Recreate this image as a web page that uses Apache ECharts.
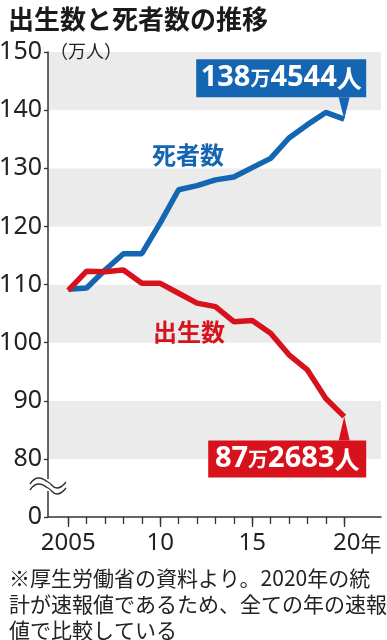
<!DOCTYPE html>
<html><head><meta charset="utf-8">
<script src="https://cdn.jsdelivr.net/npm/echarts@6/dist/echarts.min.js"></script>
<style>html,body{margin:0;padding:0;background:#fff}#c{width:387px;height:640px}</style>
</head><body><div id="c"></div>
<script>
// ---- data ----
const years = [2005,2006,2007,2008,2009,2010,2011,2012,2013,2014,2015,2016,2017,2018,2019,2020];
const deaths = [109.2,109.4,112.5,115.3,115.3,120.6,126.3,127.0,128.0,128.5,130.1,131.7,135.2,137.5,139.6,138.45];
const births = [109.0,112.3,112.2,112.5,110.2,110.2,108.5,106.8,106.2,103.6,103.8,101.6,97.9,95.3,90.4,87.27];
const yTicks = [70,80,90,100,110,120,130,140,150];
const yTickLabels = ['0','80','90','100','110','120','130','140','150'];
const xLabelYears = [2005,2010,2015,2020];
const xLabelTexts = ['2005','10','15','20'];
const titleText = '出生数と死者数の推移';
const unitText = '（万人）';
const deathsName = '死者数';
const birthsName = '出生数';
const deathsCallout = '138万4544人';
const birthsCallout = '87万2683人';
const noteLines = ['※厚生労働省の資料より。2020年の統','計が速報値であるため、全ての年の速報','値で比較している'];

// ---- styles ----
const BLUE = '#1466b3', RED = '#d8121c', INK = '#222', AX = '#333';
const NUM = '"Liberation Sans Narrow","Noto Sans",sans-serif';
const CJK = '"Noto Sans CJK JP",sans-serif';

function richify(s){
  return s.replace(/(\d+)|(万)|(人)/g,(m,d,w,p)=> d?`{n|${d}}`:(w?`{w|${w}}`:`{p|${p}}`));
}
const calloutRich = {
  n:{fontFamily:NUM,fontWeight:'bold',fontSize:29,color:'#fff'},
  w:{fontFamily:CJK,fontWeight:'bold',fontSize:20,color:'#fff'},
  p:{fontFamily:CJK,fontWeight:'bold',fontSize:25,color:'#fff'}
};
const last = years.length-1;

const chart = echarts.init(document.getElementById('c'));
const option = {
  animation:false,
  backgroundColor:'#fff',
  title:[
    {text:titleText,left:3,top:1,textStyle:{fontFamily:CJK,fontSize:26,fontWeight:'bold',color:'#1a1a1a'}},
    {text:noteLines.join('\n'),left:4,top:560,textStyle:{fontFamily:CJK,fontSize:21,fontWeight:'normal',color:INK,lineHeight:26}}
  ],
  grid:{left:48,right:6,top:52,bottom:123,containLabel:false,outerBoundsMode:'none'},
  xAxis:[
    {type:'value',min:2003.9,max:2022,position:'bottom',
     axisLine:{show:true,onZero:false,lineStyle:{color:AX,width:1.5}},
     axisTick:{show:true,customValues:years,length:7,lineStyle:{color:AX,width:1.3}},
     axisLabel:{customValues:xLabelYears,margin:14,fontFamily:NUM,fontSize:24,color:INK,
       formatter:v=>{const t=xLabelTexts[xLabelYears.indexOf(v)]; return v===2020?`{pad| }${t}{u|年}`:t;},
       rich:{pad:{width:26},u:{fontFamily:CJK,fontSize:21,color:INK}}},
     splitLine:{show:false}},
    {type:'value',min:2003.9,max:2022,position:'bottom',
     axisLine:{show:false,onZero:false},
     axisTick:{show:true,customValues:xLabelYears,length:10,lineStyle:{color:AX,width:1.3}},
     axisLabel:{show:false},splitLine:{show:false}}
  ],
  yAxis:{type:'value',min:70,max:150,interval:10,
    axisLine:{show:true,lineStyle:{color:AX,width:1.5}},
    axisTick:{show:true,length:4,lineStyle:{color:AX,width:1.3}},
    axisLabel:{margin:6,fontFamily:NUM,fontSize:25,color:INK,
      formatter:v=>yTickLabels[yTicks.indexOf(v)]},
    splitLine:{show:false},
    splitArea:{show:true,areaStyle:{color:['#ffffff','#ebebeb']}}},
  series:[
    {type:'line',name:deathsName,xAxisIndex:0,symbol:'none',z:2,
     data:years.map((y,i)=>[y,deaths[i]]),
     lineStyle:{color:BLUE,width:5.5},
     markPoint:{silent:true,animation:false,data:[
       {coord:[years[last],deaths[last]],symbol:'triangle',symbolRotate:180,symbolSize:[11,22],symbolOffset:[0,-11],itemStyle:{color:BLUE},label:{show:false}},
       {coord:[years[last],deaths[last]],symbol:'rect',symbolSize:[170,38],symbolOffset:[-63,-41],itemStyle:{color:BLUE},
        label:{show:true,position:'inside',formatter:richify(deathsCallout),rich:calloutRich}}
     ]}},
    {type:'line',name:birthsName,xAxisIndex:0,symbol:'none',z:3,
     data:years.map((y,i)=>[y,births[i]]),
     lineStyle:{color:RED,width:5.5},
     markPoint:{silent:true,animation:false,data:[
       {coord:[years[last],births[last]],symbol:'triangle',symbolSize:[11,24],symbolOffset:[0,12],itemStyle:{color:RED},label:{show:false}},
       {coord:[years[last],births[last]],symbol:'rect',symbolSize:[158,37],symbolOffset:[-57,42.5],itemStyle:{color:RED},
        label:{show:true,position:'inside',formatter:richify(birthsCallout),rich:calloutRich}}
     ]}}
  ],
  graphic:[
    {type:'text',left:50,top:42,z:50,style:{text:unitText,font:'normal 18px "Noto Sans CJK JP"',fill:INK}},
    {type:'text',left:152,top:143,z:50,style:{text:deathsName,font:'bold 24px "Noto Sans CJK JP"',fill:BLUE}},
    {type:'text',left:153,top:320,z:50,style:{text:birthsName,font:'bold 24px "Noto Sans CJK JP"',fill:RED}},
    {type:'rect',z:100,shape:{x:43,y:479,width:10,height:12},style:{fill:'#fff'}},
    {type:'polyline',z:101,shape:{points:[[30,484],[38,478],[48,482],[57,488],[66,482]],smooth:0.5},style:{stroke:AX,lineWidth:1.4,fill:null}},
    {type:'polyline',z:101,shape:{points:[[30,490],[38,484],[48,488],[57,494],[66,488]],smooth:0.5},style:{stroke:AX,lineWidth:1.4,fill:null}}
  ]
};
chart.setOption(option);
</script>
</body></html>
